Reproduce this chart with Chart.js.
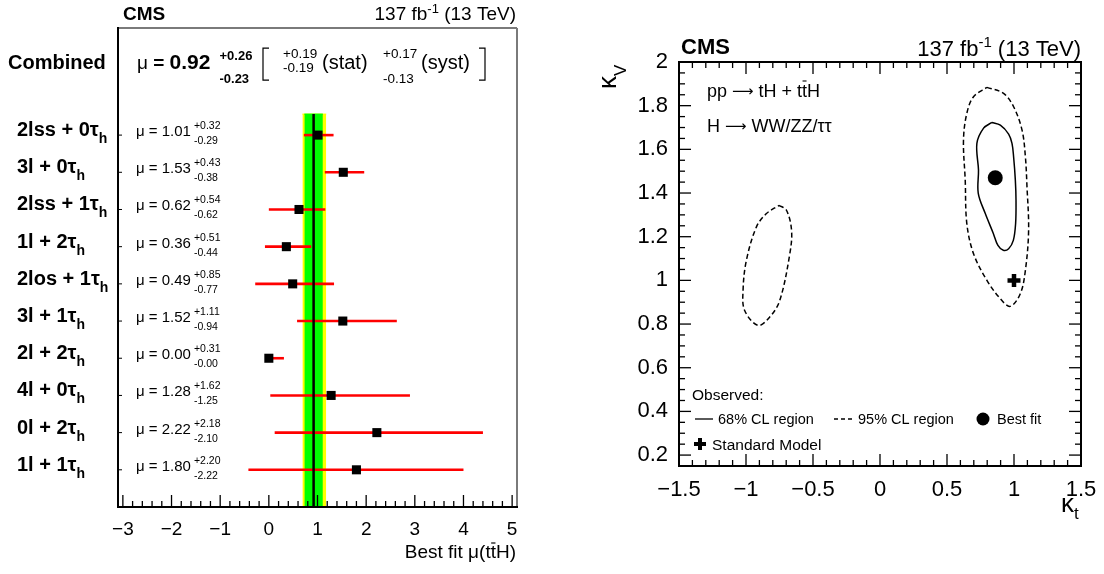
<!DOCTYPE html>
<html><head><meta charset="utf-8">
<script src="https://cdn.jsdelivr.net/npm/chart.js@4.4.1/dist/chart.umd.min.js"></script>
<style>
html,body{margin:0;padding:0;background:#fff;overflow:hidden}
#wrap{position:relative;width:1104px;height:574px;background:#fff}
canvas{position:absolute;top:0}
</style></head><body>
<div id="wrap">
<canvas id="left" width="552" height="574" style="left:0"></canvas>
<canvas id="right" width="552" height="574" style="left:552px"></canvas>
</div>
<script>
// ---------------- LEFT PANEL DATA ----------------
const channelLabels = ['2lss + 0τ','3l + 0τ','2lss + 1τ','1l + 2τ','2los + 1τ','3l + 1τ','2l + 2τ','4l + 0τ','0l + 2τ','1l + 1τ'];
const channelSub = 'h';
const muBest    = [1.01, 1.53, 0.62, 0.36, 0.49, 1.52, 0.00, 1.28, 2.22, 1.80];
const muErrUp   = [0.32, 0.43, 0.54, 0.51, 0.85, 1.11, 0.31, 1.62, 2.18, 2.20];
const muErrDown = [0.29, 0.38, 0.62, 0.44, 0.77, 0.94, 0.00, 1.25, 2.10, 2.22];
const combinedMu   = 0.92;
const combinedTot  = [0.23, 0.26];  // [down, up]
const combinedStat = [0.19, 0.19];
const combinedSyst = [0.13, 0.17];
const muTicks = [-3, -2, -1, 0, 1, 2, 3, 4, 5];

// ---------------- RIGHT PANEL DATA ----------------
const cl68Kt = [0.835,0.898,0.960,0.985,0.997,1.010,1.015,1.012,0.995,0.960,0.920,0.880,0.845,0.785,0.733,0.735,0.723,0.773,0.835];
const cl68Kv = [1.723,1.711,1.670,1.627,1.566,1.459,1.367,1.260,1.183,1.145,1.138,1.160,1.216,1.307,1.400,1.505,1.627,1.697,1.723];
const cl95aKt = [0.798,0.922,0.997,1.060,1.085,1.097,1.109,1.085,1.047,0.972,0.898,0.798,0.698,0.648,0.636,0.623,0.648,0.698,0.798];
const cl95aKv = [1.884,1.856,1.795,1.688,1.566,1.428,1.229,1.046,0.939,0.881,0.916,1.000,1.122,1.260,1.459,1.642,1.765,1.841,1.884];
const cl95bKt = [-0.753,-0.698,-0.660,-0.673,-0.748,-0.823,-0.910,-1.010,-1.022,-0.997,-0.922,-0.847,-0.753];
const cl95bKv = [1.344,1.321,1.229,1.122,0.908,0.832,0.794,0.862,0.954,1.092,1.245,1.306,1.344];
const bestFit = [0.86, 1.47];
const smPoint = [1.0, 1.0];
const ktTicks = [-1.5, -1, -0.5, 0, 0.5, 1, 1.5];
const kvTicks = [0.2, 0.4, 0.6, 0.8, 1, 1.2, 1.4, 1.6, 1.8, 2];

// ---------------- helpers ----------------
const F = '"Liberation Sans", Arial, Helvetica, sans-serif';
const FA = '"DejaVu Sans", sans-serif';
const fmtTick = v => String(v).replace('-', '\u2212');
const fmtErr = (s, v) => s + v.toFixed(2);
function txt(ctx, s, x, y, font, align) {
  ctx.font = font; ctx.textAlign = align || 'left'; ctx.textBaseline = 'alphabetic';
  ctx.fillStyle = '#000'; ctx.fillText(s, x, y);
  return ctx.measureText(s).width;
}
function seg(ctx, x1, y1, x2, y2, w, c) {
  ctx.beginPath(); ctx.lineWidth = w; ctx.strokeStyle = c || '#000';
  ctx.moveTo(x1, y1); ctx.lineTo(x2, y2); ctx.stroke();
}

// ================= LEFT CHART =================
const L = {left: 118, right: 517, top: 28, bottom: 507};
const Y_MIN = -2.88, Y_MAX = 10.0, COMB_ROW = -1.83, BAND_TOP = -0.565;

const leftSets = [];
leftSets.push({data: muBest.map((m, i) => ({x: m, y: i})), showLine: false, pointStyle: 'rect',
  pointRadius: 6.4, pointBackgroundColor: '#000', pointBorderWidth: 0, order: 0});
leftSets.push({data: [{x: combinedMu, y: BAND_TOP}, {x: combinedMu, y: Y_MAX}], borderColor: '#000',
  borderWidth: 2.5, pointRadius: 0, fill: false, order: 1});
muBest.forEach((m, i) => {
  leftSets.push({data: [{x: m - muErrDown[i], y: i}, {x: m + muErrUp[i], y: i}], borderColor: '#ff0000',
    borderWidth: 2.6, pointRadius: 0, fill: false, order: 2});
});
leftSets.push({data: [{x: combinedMu - combinedStat[0], y: BAND_TOP}, {x: combinedMu + combinedStat[1], y: BAND_TOP}],
  borderColor: '#00ff00', borderWidth: 1, backgroundColor: '#00ff00', pointRadius: 0, fill: 'start', order: 3});
leftSets.push({data: [{x: combinedMu - combinedTot[0], y: BAND_TOP}, {x: combinedMu + combinedTot[1], y: BAND_TOP}],
  borderColor: '#ffff00', borderWidth: 1, backgroundColor: '#ffff00', pointRadius: 0, fill: 'start', order: 4});

const leftPlugin = {
  id: 'leftDeco',
  afterDraw(chart) {
    const ctx = chart.ctx, xs = chart.scales.x, ys = chart.scales.y, a = chart.chartArea;
    ctx.save();
    // frame
    seg(ctx, a.left, a.top, a.right, a.top, 2, '#7a7a7a');
    seg(ctx, a.right, a.top, a.right, a.bottom, 2, '#7a7a7a');
    seg(ctx, a.left, a.top - 1, a.left, a.bottom + 1, 2, '#000');
    seg(ctx, a.left - 1, a.bottom, a.right + 1, a.bottom, 2, '#000');
    // bottom ticks
    for (let k = 0; k <= 40; k++) {
      const v = -3 + k * 0.2, px = xs.getPixelForValue(v);
      seg(ctx, px, a.bottom, px, a.bottom - (k % 5 === 0 ? 12 : 6), 1.3, '#000');
    }
    // small row ticks on left border
    channelLabels.forEach((_, i) => {
      const py = ys.getPixelForValue(i);
      seg(ctx, a.left, py, a.left + 4, py, 1, '#000');
    });
    // channel labels + mu texts
    channelLabels.forEach((lab, i) => {
      const py = ys.getPixelForValue(i);
      const w = txt(ctx, lab, 17, py + 1, 'bold 20px ' + F);
      txt(ctx, channelSub, 17 + w, py + 8, 'bold 14px ' + F);
      const w2 = txt(ctx, 'μ = ' + muBest[i].toFixed(2), 136, py + 1, '15px ' + F);
      txt(ctx, fmtErr('+', muErrUp[i]), 136 + w2 + 3, py - 6, '10.5px ' + F);
      txt(ctx, fmtErr('-', muErrDown[i]), 136 + w2 + 3, py + 9, '10.5px ' + F);
    });
    // combined row
    const B = ys.getPixelForValue(COMB_ROW) + 2;
    txt(ctx, 'Combined', 8, B, 'bold 20px ' + F);
    let x = 137;
    x += txt(ctx, 'μ ', x, B, '19px ' + F);
    x += txt(ctx, '= ', x, B, 'bold 19px ' + F);
    x += txt(ctx, combinedMu.toFixed(2), x, B, 'bold 21px ' + F);
    x += 9;
    txt(ctx, fmtErr('+', combinedTot[1]), x, B - 9, 'bold 13px ' + F);
    txt(ctx, fmtErr('-', combinedTot[0]), x, B + 14, 'bold 13px ' + F);
    // brackets
    const bx1 = 263, bx2 = 485, bt = B - 21, bb = B + 11;
    ctx.lineWidth = 1.2; ctx.strokeStyle = '#000';
    ctx.beginPath(); ctx.moveTo(bx1 + 6, bt); ctx.lineTo(bx1, bt); ctx.lineTo(bx1, bb); ctx.lineTo(bx1 + 6, bb); ctx.stroke();
    ctx.beginPath(); ctx.moveTo(bx2 - 6, bt); ctx.lineTo(bx2, bt); ctx.lineTo(bx2, bb); ctx.lineTo(bx2 - 6, bb); ctx.stroke();
    txt(ctx, fmtErr('+', combinedStat[1]), 283, B - 11, '13.5px ' + F);
    txt(ctx, fmtErr('-', combinedStat[0]), 283, B + 3, '13.5px ' + F);
    txt(ctx, '(stat)', 322, B, '20px ' + F);
    txt(ctx, fmtErr('+', combinedSyst[1]), 383, B - 11, '13.5px ' + F);
    txt(ctx, fmtErr('-', combinedSyst[0]), 383, B + 14, '13.5px ' + F);
    txt(ctx, '(syst)', 421, B, '20px ' + F);
    // header
    txt(ctx, 'CMS', 123, 20, 'bold 19px ' + F);
    let hx = a.right - 1;
    hx -= txt(ctx, ' (13 TeV)', hx, 20, '19px ' + F, 'right');
    hx -= txt(ctx, '-1', hx, 13, '13px ' + F, 'right');
    txt(ctx, '137 fb', hx, 20, '19px ' + F, 'right');
    // x title: Best fit μ(tt̄H)
    ctx.font = '19px ' + F;
    const p1 = 'Best fit μ(t', p2 = 't', p3 = 'H)';
    const tw = ctx.measureText(p1 + p2 + p3).width;
    let tx = a.right - 1 - tw;
    tx += txt(ctx, p1, tx, 558, '19px ' + F);
    const wt = txt(ctx, p2, tx, 558, '19px ' + F);
    seg(ctx, tx + 0.5, 543, tx + wt - 0.5, 543, 1.2, '#000');
    tx += wt;
    txt(ctx, p3, tx, 558, '19px ' + F);
    ctx.restore();
  }
};

new Chart(document.getElementById('left'), {
  type: 'line',
  data: {datasets: leftSets},
  options: {
    responsive: false, animation: false, events: [],
    layout: {padding: {left: 0, top: L.top, right: 552 - L.right, bottom: 0}},
    plugins: {legend: {display: false}, tooltip: {enabled: false}},
    scales: {
      x: {type: 'linear', min: -3.1, max: 5.1,
        afterBuildTicks: s => { s.ticks = muTicks.map(v => ({value: v})); },
        afterFit: s => { s.height = 574 - L.bottom; },
        grid: {display: false}, border: {display: false},
        ticks: {font: {family: F, size: 19}, color: '#000', padding: 3, maxRotation: 0, autoSkip: false,
          callback: v => fmtTick(v)}},
      y: {type: 'linear', reverse: true, min: Y_MIN, max: Y_MAX,
        afterFit: s => { s.width = L.left; },
        grid: {display: false}, border: {display: false}, ticks: {display: false}}
    }
  },
  plugins: [leftPlugin]
});

// ================= RIGHT CHART =================
const R = {left: 127, right: 529, top: 62, bottom: 466};
const OX = 552; // canvas offset of the right panel
const toPts = (xs, ys) => xs.map((v, i) => ({x: v, y: ys[i]}));
const rightSets = [
  {data: [{x: bestFit[0], y: bestFit[1]}], showLine: false, pointStyle: 'circle', pointRadius: 7.5,
    pointBackgroundColor: '#000', pointBorderWidth: 0, order: 0},
  {data: [{x: smPoint[0], y: smPoint[1]}], showLine: false, pointStyle: 'cross', pointRadius: 6.5,
    pointBorderColor: '#000', pointBorderWidth: 4.5, order: 0},
  {data: toPts(cl68Kt, cl68Kv), borderColor: '#000', borderWidth: 1.5, pointRadius: 0, tension: 0.35, fill: false, order: 1},
  {data: toPts(cl95aKt, cl95aKv), borderColor: '#000', borderWidth: 1.5, borderDash: [5, 3], pointRadius: 0, tension: 0.35, fill: false, order: 1},
  {data: toPts(cl95bKt, cl95bKv), borderColor: '#000', borderWidth: 1.5, borderDash: [5, 3], pointRadius: 0, tension: 0.35, fill: false, order: 1}
];

function arrowText(ctx, x, y, size) {
  return txt(ctx, '⟶', x, y, size + 'px ' + FA);
}

const rightPlugin = {
  id: 'rightDeco',
  afterDraw(chart) {
    const ctx = chart.ctx, xs = chart.scales.x, ys = chart.scales.y, a = chart.chartArea;
    ctx.save();
    ctx.strokeStyle = '#000'; ctx.lineWidth = 2;
    ctx.strokeRect(a.left, a.top, a.right - a.left, a.bottom - a.top);
    // x ticks (bottom + top)
    for (let k = 0; k <= 30; k++) {
      const v = -1.5 + k * 0.1, px = xs.getPixelForValue(v), len = (k % 5 === 0) ? 12 : 6;
      seg(ctx, px, a.bottom, px, a.bottom - len, 1.3);
      seg(ctx, px, a.top, px, a.top + len, 1.3);
    }
    // y ticks (left + right)
    for (let k = 0; k <= 37; k++) {
      const v = 0.15 + k * 0.05, py = ys.getPixelForValue(v);
      const major = Math.abs(v / 0.2 - Math.round(v / 0.2)) < 1e-6, len = major ? 12 : 6;
      seg(ctx, a.left, py, a.left + len, py, 1.3);
      seg(ctx, a.right, py, a.right - len, py, 1.3);
    }
    // header
    txt(ctx, 'CMS', a.left + 2, 54, 'bold 22px ' + F);
    let hx = a.right;
    hx -= txt(ctx, ' (13 TeV)', hx, 56, '22px ' + F, 'right');
    hx -= txt(ctx, '-1', hx, 47, '15px ' + F, 'right');
    txt(ctx, '137 fb', hx, 56, '22px ' + F, 'right');
    // process text
    const fz = '18px ' + F;
    let px = 707 - OX;
    px += txt(ctx, 'pp ', px, 97, fz);
    px += arrowText(ctx, px, 96, 15);
    px += txt(ctx, ' tH + t', px, 97, fz);
    const wt = txt(ctx, 't', px, 97, fz);
    seg(ctx, px + 0.5, 81, px + wt - 0.5, 81, 1.1);
    txt(ctx, 'H', px + wt, 97, fz);
    px = 707 - OX;
    px += txt(ctx, 'H ', px, 132, fz);
    px += arrowText(ctx, px, 131, 15);
    txt(ctx, ' WW/ZZ/ττ', px, 132, fz);
    // axis titles
    ctx.save();
    ctx.translate(616 - OX, 89); ctx.rotate(-Math.PI / 2);
    const wk = txt(ctx, 'κ', 0, 0, '26px ' + F);
    txt(ctx, 'V', wk, 10, '17px ' + F);
    ctx.restore();
    const wk2 = txt(ctx, 'κ', 1061 - OX, 512, '26px ' + F);
    txt(ctx, 't', 1061 - OX + wk2, 519, '17px ' + F);
    // legend
    txt(ctx, 'Observed:', 692 - OX, 400, '15.5px ' + F);
    seg(ctx, 695 - OX, 419, 713 - OX, 419, 1.3);
    txt(ctx, '68% CL region', 718 - OX, 424, '14.5px ' + F);
    ctx.setLineDash([4, 3]); seg(ctx, 834 - OX, 419, 855 - OX, 419, 1.3); ctx.setLineDash([]);
    txt(ctx, '95% CL region', 858 - OX, 424, '14.5px ' + F);
    ctx.beginPath(); ctx.fillStyle = '#000'; ctx.arc(983 - OX, 419, 6.5, 0, 2 * Math.PI); ctx.fill();
    txt(ctx, 'Best fit', 997 - OX, 424, '14.5px ' + F);
    seg(ctx, 700 - OX - 6, 444, 700 - OX + 6, 444, 4);
    seg(ctx, 700 - OX, 438, 700 - OX, 450, 4);
    txt(ctx, 'Standard Model', 712 - OX, 450, '15.5px ' + F);
    ctx.restore();
  }
};

new Chart(document.getElementById('right'), {
  type: 'line',
  data: {datasets: rightSets},
  options: {
    responsive: false, animation: false, events: [],
    layout: {padding: {left: 0, top: R.top, right: 552 - R.right, bottom: 0}},
    plugins: {legend: {display: false}, tooltip: {enabled: false}},
    scales: {
      x: {type: 'linear', min: -1.5, max: 1.5,
        afterBuildTicks: s => { s.ticks = ktTicks.map(v => ({value: v})); },
        afterFit: s => { s.height = 574 - R.bottom; },
        grid: {display: false}, border: {display: false},
        ticks: {font: {family: F, size: 22}, color: '#000', padding: 3, maxRotation: 0, autoSkip: false,
          callback: v => fmtTick(v)}},
      y: {type: 'linear', min: 0.15, max: 2.0,
        afterBuildTicks: s => { s.ticks = kvTicks.map(v => ({value: v})); },
        afterFit: s => { s.width = R.left; },
        grid: {display: false}, border: {display: false},
        ticks: {font: {family: F, size: 22}, color: '#000', padding: 3, autoSkip: false,
          callback: v => fmtTick(v)}}
    }
  },
  plugins: [rightPlugin]
});
</script>
</body></html>
